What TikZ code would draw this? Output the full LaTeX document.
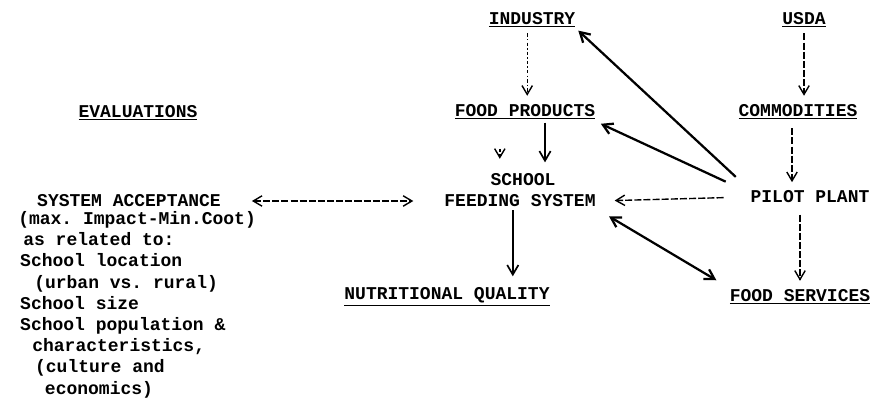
\documentclass[tikz,border=0pt]{standalone}
\usepackage{fontspec}
\setmonofont{Liberation Mono}
\usetikzlibrary{arrows.meta,calc}
\tikzset{
  lbl/.style={font=\ttfamily\bfseries\fontsize{12.8}{15.1}\selectfont, inner sep=2pt},
  dotarr/.style={-{Straight Barb[length=2.2mm,width=2.6mm]}, line width=1pt, dash pattern=on 2.5pt off 1.5pt on 1pt off 1.5pt},
  dasharr/.style={-{Straight Barb[length=2.2mm,width=2.6mm]}, line width=1pt, dash pattern=on 5pt off 1.5pt},
  solidarr/.style={-{Straight Barb[length=2.4mm,width=2.8mm]}, line width=1.6pt}
}
\begin{document}
\begin{tikzpicture}
\useasboundingbox (0,0) rectangle (22.2,10.275);
\node[lbl] (eval) at (3.45,7.45) {\underline{EVALUATIONS}};
\node[lbl] (industry) at (13.3,9.775) {\underline{INDUSTRY}};
\node[lbl] (usda) at (20.1,9.775) {\underline{USDA}};
\node[lbl] (foodprod) at (13.125,7.475) {\underline{FOOD PRODUCTS}};
\node[lbl] (commod) at (19.95,7.475) {\underline{COMMODITIES}};
\node[lbl] (school) at (13.075,5.775) {SCHOOL};
\node[lbl] (feed) at (13.0,5.25) {FEEDING SYSTEM};
\node[lbl] (pilot) at (20.25,5.35) {PILOT PLANT};
\node[lbl] (acc) at (3.225,5.25) {SYSTEM ACCEPTANCE};
\node[lbl, inner sep=0pt, anchor=north west, align=left] (accdet) at (0.45,5.0) {(max. Impact-Min.Coot)\\
\hspace*{3.6pt}as related to:\\
\hspace*{1.4pt}School location\\
\hspace*{11.4pt}(urban vs. rural)\\
\hspace*{1.4pt}School size\\
\hspace*{1.4pt}School population \&\\
\hspace*{10pt}characteristics,\\
\hspace*{12pt}(culture and\\
\hspace*{19pt}economics)};
\node[lbl] (nutri) at (11.175,2.85) {\underline{NUTRITIONAL QUALITY}};
\node[lbl] (fserv) at (20.0,2.85) {\underline{FOOD SERVICES}};

\draw[dotarr, shorten <=2pt, shorten >=4pt] ([xshift=-0.12cm]industry.south) -- ([xshift=-0.12cm]industry.south |- foodprod.north);
\draw[solidarr, line width=1.2pt, shorten >=6pt] ([xshift=0.5cm]foodprod.south) -- ([xshift=0.5cm]foodprod.south |- school.north);
\draw[dotarr] ($(school.north)+(-0.58,0.55)$) -- ($(school.north)+(-0.58,0.3)$);
\draw[dasharr, shorten <=2pt, shorten >=4pt] (usda.south) -- (usda.south |- commod.north);
\draw[dasharr, shorten <=4pt, shorten >=4pt] ([xshift=-0.15cm]commod.south) -- ([xshift=-0.15cm]commod.south |- pilot.north);
\draw[dasharr, shorten <=6pt, shorten >=4pt] (fserv.north |- pilot.south) -- (fserv.north);
\draw[dasharr, {Straight Barb[length=2.2mm,width=2.6mm]}-{Straight Barb[length=2.2mm,width=2.6mm]}, shorten <=0.7cm, shorten >=0.7cm] (acc.east) -- (feed.west);
\draw[dasharr, shorten <=0.6cm, shorten >=0.4cm] (pilot.west) -- (feed.east);
\draw[solidarr, shorten <=0.4cm] (pilot.north west) -- (industry.south east);
\draw[solidarr, shorten <=0.6cm, shorten >=2pt] ([yshift=-0.1cm]pilot.north west) -- (foodprod.south east);
\draw[solidarr, {Straight Barb[length=2.4mm,width=2.8mm]}-{Straight Barb[length=2.4mm,width=2.8mm]}, shorten <=0.3cm, shorten >=0.3cm] (feed.south east) -- (fserv.north west);
\draw[solidarr, line width=1.2pt, shorten >=6pt] ([xshift=-0.18cm]feed.south) -- ([xshift=-0.18cm]feed.south |- nutri.north);
\end{tikzpicture}
\end{document}
